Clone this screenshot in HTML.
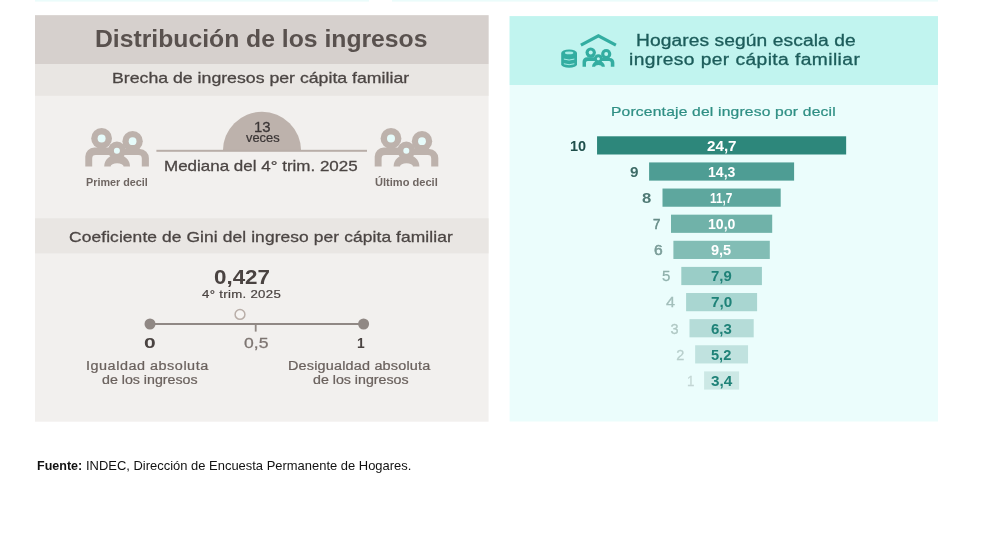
<!DOCTYPE html>
<html lang="es"><head><meta charset="utf-8"><title>Distribución de los ingresos</title>
<style>
html,body{margin:0;padding:0;background:#fff;}
body{width:1000px;height:556px;position:relative;overflow:hidden;font-family:"Liberation Sans", sans-serif;}
.t{position:absolute;white-space:nowrap;line-height:1;transform-origin:0 0;}
svg{position:absolute;overflow:visible;}
</style></head><body>
<!-- brecha -->
<svg width="1000" height="556" viewBox="0 0 1000 556" style="left:0;top:0">
  <rect x="35" y="0" width="334" height="1.6" fill="#ebfcfb"/>
  <rect x="392" y="0" width="546" height="1.6" fill="#ebfcfb"/>
  <!-- left panel -->
  <rect x="35" y="15.2" width="453.6" height="406.5" fill="#f2f0ee"/>
  <rect x="35" y="15.2" width="453.6" height="48.8" fill="#d6d0cd"/>
  <rect x="35" y="64" width="453.6" height="31.8" fill="#e9e6e3"/>
  <rect x="35" y="218.3" width="453.6" height="35.1" fill="#e9e6e3"/>
  <!-- right panel -->
  <rect x="509.6" y="16.1" width="428.4" height="405.4" fill="#ebfdfc"/>
  <rect x="509.6" y="16.1" width="428.4" height="68.9" fill="#c1f4ef"/>
  <rect x="597.05" y="136.30" width="249.10" height="18.2" fill="#2d877b"/>
  <rect x="649.10" y="162.42" width="145.00" height="18.2" fill="#4e9d94"/>
  <rect x="662.50" y="188.54" width="118.20" height="18.2" fill="#5ea79e"/>
  <rect x="671.00" y="214.66" width="101.20" height="18.2" fill="#70b2a9"/>
  <rect x="673.40" y="240.78" width="96.40" height="18.2" fill="#82bdb5"/>
  <rect x="681.30" y="266.90" width="80.60" height="18.2" fill="#9acdc7"/>
  <rect x="686.10" y="293.02" width="71.00" height="18.2" fill="#a9d6d1"/>
  <rect x="689.50" y="319.14" width="64.20" height="18.2" fill="#b5dcd8"/>
  <rect x="695.15" y="345.26" width="52.90" height="18.2" fill="#c0e2df"/>
  <rect x="704.10" y="371.38" width="35.00" height="18.2" fill="#cce8e5"/>
  <path d="M222.9 150.8 A39.1 39.1 0 0 1 301.1 150.8 Z" fill="#bdb2ac"/>
  <rect x="156.4" y="149.8" width="210.6" height="2" fill="#b9aea8"/>
  <g transform="translate(85,127.6)"><g fill="#bdb2ac">
<circle cx="16.6" cy="10.8" r="10.4"/>
<circle cx="47.6" cy="13.6" r="10.2"/>
<circle cx="31.9" cy="23" r="9"/>
<path d="M0.3 39 V29 A9 9 0 0 1 9.3 20 H26 V27.4 H10.6 A3.4 3.4 0 0 0 7.2 30.8 V39 Z"/>
<path d="M63.9 39 V30.4 A9 9 0 0 0 54.9 21.4 H38 V27.4 H53.4 A3.4 3.4 0 0 1 56.8 30.8 V39 Z"/>
<path d="M19.2 39 A12.9 12 0 0 1 45 39 H38.6 A6.5 3.4 0 0 0 25.6 39 Z"/>
</g>
<g fill="#e6fbfa">
<circle cx="16.6" cy="10.8" r="4"/>
<circle cx="47.6" cy="13.6" r="3.9"/>
<circle cx="31.9" cy="23.2" r="3"/>
</g>
</g>
  <g transform="translate(374.4,127.6)"><g fill="#bdb2ac">
<circle cx="16.6" cy="10.8" r="10.4"/>
<circle cx="47.6" cy="13.6" r="10.2"/>
<circle cx="31.9" cy="23" r="9"/>
<path d="M0.3 39 V29 A9 9 0 0 1 9.3 20 H26 V27.4 H10.6 A3.4 3.4 0 0 0 7.2 30.8 V39 Z"/>
<path d="M63.9 39 V30.4 A9 9 0 0 0 54.9 21.4 H38 V27.4 H53.4 A3.4 3.4 0 0 1 56.8 30.8 V39 Z"/>
<path d="M19.2 39 A12.9 12 0 0 1 45 39 H38.6 A6.5 3.4 0 0 0 25.6 39 Z"/>
</g>
<g fill="#e6fbfa">
<circle cx="16.6" cy="10.8" r="4"/>
<circle cx="47.6" cy="13.6" r="3.9"/>
<circle cx="31.9" cy="23.2" r="3"/>
</g>
</g>
  <!-- gini slider -->
  <rect x="150" y="323" width="213.6" height="2" fill="#908884"/>
  <rect x="254.8" y="324" width="1.8" height="7.6" fill="#908884"/>
  <circle cx="150" cy="324" r="5.5" fill="#908884"/>
  <circle cx="363.6" cy="324" r="5.5" fill="#908884"/>
  <circle cx="240" cy="314.4" r="4.9" fill="#f6f4f2" stroke="#b9aea8" stroke-width="1.5"/>
  <g transform="translate(561,34)"><g fill="none" stroke="#33ada1" stroke-width="3.2" stroke-linejoin="miter">
<path d="M19.9 11.1 L37.4 1.8 L54.9 11.1"/>
</g>
<g fill="#33ada1">
<path d="M0.2 19 A7.9 3.6 0 0 1 16 19 V30.2 A7.9 3.6 0 0 1 0.2 30.2 Z"/>
</g>
<g fill="none" stroke="#a9ece6" stroke-width="1" stroke-linecap="round">
<ellipse cx="8.1" cy="18.9" rx="4.2" ry="1.3" fill="#a9ece6" stroke="none"/>
<path d="M3.2 25.2 Q8.1 27 13 25.2"/>
<path d="M3.2 29.9 Q8.1 31.7 13 29.9"/>
</g>
<g transform="translate(21.4,13.2) scale(0.5)"><g fill="#33ada1">
<circle cx="16.6" cy="10.8" r="10.4"/>
<circle cx="47.6" cy="13.6" r="10.2"/>
<circle cx="31.9" cy="23" r="9"/>
<path d="M0.3 39 V29 A9 9 0 0 1 9.3 20 H26 V27.4 H10.6 A3.4 3.4 0 0 0 7.2 30.8 V39 Z"/>
<path d="M63.9 39 V30.4 A9 9 0 0 0 54.9 21.4 H38 V27.4 H53.4 A3.4 3.4 0 0 1 56.8 30.8 V39 Z"/>
<path d="M19.2 39 A12.9 12 0 0 1 45 39 H38.6 A6.5 3.4 0 0 0 25.6 39 Z"/>
</g>
<g fill="#c1f4ef">
<circle cx="16.6" cy="10.8" r="4"/>
<circle cx="47.6" cy="13.6" r="3.9"/>
<circle cx="31.9" cy="23.2" r="3"/>
</g>
</g>
</g>
</svg>
<span class="t" style="left:94.92px;top:26px;line-height:26px;font-size:23px;font-weight:700;color:#59514e;transform:scaleX(1.075);">Distribución de los ingresos</span>
<span class="t" style="left:111.82px;top:69px;line-height:17px;font-size:15px;font-weight:400;color:#4b4543;-webkit-text-stroke:0.28px;transform:scaleX(1.180);">Brecha de ingresos per cápita familiar</span>
<span class="t" style="left:253.54px;top:118px;line-height:17px;font-size:15.5px;font-weight:400;color:#3b3636;-webkit-text-stroke:0.29px;transform:scaleX(0.960);">13</span>
<span class="t" style="left:245.50px;top:131px;line-height:14px;font-size:12.5px;font-weight:400;color:#3b3636;-webkit-text-stroke:0.23px;transform:scaleX(1.028);">veces</span>
<span class="t" style="left:164.23px;top:158px;line-height:16px;font-size:14.5px;font-weight:400;color:#4b4543;-webkit-text-stroke:0.27px;transform:scaleX(1.171);">Mediana del 4° trim. 2025</span>
<span class="t" style="left:86.00px;top:177px;line-height:11px;font-size:10px;font-weight:700;color:#6f6662;transform:scaleX(1.079);">Primer decil</span>
<span class="t" style="left:375.00px;top:177px;line-height:11px;font-size:10px;font-weight:700;color:#6f6662;transform:scaleX(1.107);">Último decil</span>
<span class="t" style="left:69.00px;top:229px;line-height:16px;font-size:14.5px;font-weight:400;color:#4b4543;-webkit-text-stroke:0.27px;transform:scaleX(1.200);letter-spacing:0.078px;">Coeficiente de Gini del ingreso per cápita familiar</span>
<span class="t" style="left:214.00px;top:265px;line-height:23px;font-size:20.5px;font-weight:700;color:#4a4341;transform:scaleX(1.092);">0,427</span>
<span class="t" style="left:202.40px;top:288px;line-height:12px;font-size:11px;font-weight:400;color:#4a4341;-webkit-text-stroke:0.20px;transform:scaleX(1.200);letter-spacing:0.261px;">4° trim. 2025</span>
<span class="t" style="left:144.40px;top:334px;line-height:17px;font-size:15px;font-weight:700;color:#4a4341;transform:scaleX(1.400);">0</span>
<span class="t" style="left:244.00px;top:334px;line-height:17px;font-size:15px;font-weight:400;color:#7d7571;-webkit-text-stroke:0.28px;transform:scaleX(1.170);">0,5</span>
<span class="t" style="left:356.92px;top:334px;line-height:17px;font-size:15px;font-weight:700;color:#4a4341;transform:scaleX(0.920);">1</span>
<span class="t" style="left:86.40px;top:359px;line-height:14px;font-size:12px;font-weight:400;color:#6a615d;-webkit-text-stroke:0.22px;transform:scaleX(1.200);letter-spacing:0.443px;">Igualdad absoluta</span>
<span class="t" style="left:102.40px;top:373px;line-height:14px;font-size:12px;font-weight:400;color:#6a615d;-webkit-text-stroke:0.22px;transform:scaleX(1.184);">de los ingresos</span>
<span class="t" style="left:288.40px;top:359px;line-height:14px;font-size:12px;font-weight:400;color:#6a615d;-webkit-text-stroke:0.22px;transform:scaleX(1.200);letter-spacing:0.163px;">Desigualdad absoluta</span>
<span class="t" style="left:313.40px;top:373px;line-height:14px;font-size:12px;font-weight:400;color:#6a615d;-webkit-text-stroke:0.22px;transform:scaleX(1.184);">de los ingresos</span>
<span class="t" style="left:635.80px;top:32px;line-height:17px;font-size:16px;font-weight:400;color:#1c5c5a;-webkit-text-stroke:0.30px;transform:scaleX(1.200);letter-spacing:0.073px;">Hogares según escala de</span>
<span class="t" style="left:629.40px;top:51px;line-height:17px;font-size:16px;font-weight:400;color:#1c5c5a;-webkit-text-stroke:0.30px;transform:scaleX(1.200);letter-spacing:0.351px;">ingreso per cápita familiar</span>
<span class="t" style="left:610.80px;top:104px;line-height:15px;font-size:13px;font-weight:400;color:#2f8f84;-webkit-text-stroke:0.24px;transform:scaleX(1.200);letter-spacing:0.165px;">Porcentaje del ingreso por decil</span>
<span class="t" style="left:37.00px;top:458px;line-height:15px;font-size:12.8px;font-weight:700;color:#111;transform:scaleX(0.979);">Fuente:</span>
<span class="t" style="left:85.99px;top:458px;line-height:15px;font-size:12.8px;font-weight:400;color:#111;transform:scaleX(1.012);">INDEC, Dirección de Encuesta Permanente de Hogares.</span>
<span class="t" style="left:706.70px;top:138px;line-height:16px;font-size:14px;font-weight:700;color:#fff;transform:scaleX(1.085);">24,7</span>
<span class="t" style="left:570.05px;top:138px;line-height:16px;font-size:14.5px;font-weight:700;color:#1f4f4b;">10</span>
<span class="t" style="left:707.80px;top:164px;line-height:16px;font-size:14px;font-weight:700;color:#fff;transform:scaleX(1.005);">14,3</span>
<span class="t" style="left:629.70px;top:164px;line-height:16px;font-size:14.5px;font-weight:700;color:#3d6b66;transform:scaleX(1.050);">9</span>
<span class="t" style="left:710.30px;top:190px;line-height:16px;font-size:14px;font-weight:700;color:#fff;transform:scaleX(0.847);">11,7</span>
<span class="t" style="left:642.30px;top:190px;line-height:16px;font-size:14.5px;font-weight:700;color:#4f7a75;transform:scaleX(1.150);">8</span>
<span class="t" style="left:707.80px;top:216px;line-height:16px;font-size:14px;font-weight:700;color:#fff;transform:scaleX(1.005);">10,0</span>
<span class="t" style="left:652.82px;top:216px;line-height:16px;font-size:14.5px;font-weight:400;color:#668c87;-webkit-text-stroke:0.55px;transform:scaleX(0.920);">7</span>
<span class="t" style="left:711.40px;top:242px;line-height:16px;font-size:14px;font-weight:700;color:#fff;transform:scaleX(1.037);">9,5</span>
<span class="t" style="left:653.80px;top:242px;line-height:16px;font-size:14.5px;font-weight:400;color:#7a9c98;-webkit-text-stroke:0.55px;transform:scaleX(1.075);">6</span>
<span class="t" style="left:711.15px;top:268px;line-height:16px;font-size:14px;font-weight:700;color:#1f8278;transform:scaleX(1.062);">7,9</span>
<span class="t" style="left:662.00px;top:268px;line-height:16px;font-size:14.5px;font-weight:400;color:#8fb0ab;-webkit-text-stroke:0.27px;transform:scaleX(1.037);">5</span>
<span class="t" style="left:710.85px;top:294px;line-height:16px;font-size:14px;font-weight:700;color:#1f8278;transform:scaleX(1.093);">7,0</span>
<span class="t" style="left:666.10px;top:294px;line-height:16px;font-size:14.5px;font-weight:400;color:#a3bfbb;-webkit-text-stroke:0.27px;transform:scaleX(1.125);">4</span>
<span class="t" style="left:711.10px;top:321px;line-height:16px;font-size:14px;font-weight:700;color:#1f8278;transform:scaleX(1.067);">6,3</span>
<span class="t" style="left:670.50px;top:321px;line-height:16px;font-size:14.5px;font-weight:400;color:#b0c8c4;-webkit-text-stroke:0.27px;">3</span>
<span class="t" style="left:711.35px;top:347px;line-height:16px;font-size:14px;font-weight:700;color:#1f8278;transform:scaleX(1.042);">5,2</span>
<span class="t" style="left:676.15px;top:347px;line-height:16px;font-size:14.5px;font-weight:400;color:#b8cfcc;-webkit-text-stroke:0.27px;">2</span>
<span class="t" style="left:710.85px;top:373px;line-height:16px;font-size:14px;font-weight:700;color:#1f8278;transform:scaleX(1.093);">3,4</span>
<span class="t" style="left:687.21px;top:373px;line-height:16px;font-size:14.5px;font-weight:400;color:#c3d6d4;-webkit-text-stroke:0.27px;transform:scaleX(0.920);">1</span>
</body></html>
